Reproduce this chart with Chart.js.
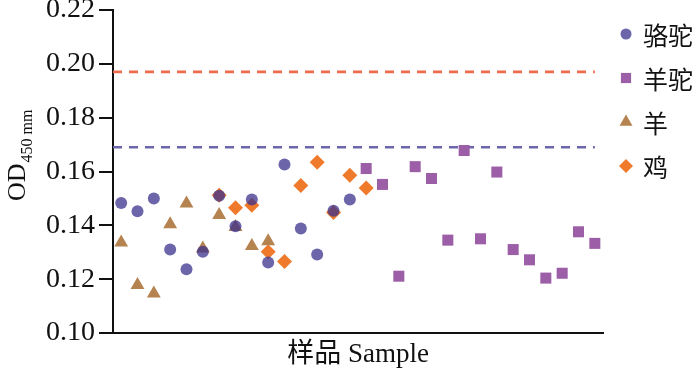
<!DOCTYPE html>
<html>
<head>
<meta charset="utf-8">
<script src="https://cdn.jsdelivr.net/npm/chart.js@4"></script>
<style>
  html, body { margin: 0; padding: 0; background: #fff; }
  #wrap { width: 700px; height: 376px; }
</style>
</head>
<body>
<div id="wrap"><canvas id="odChart" width="700" height="376"></canvas></div>
<script>
// 样品编号
const camelSamples = [1, 2, 3, 4, 5, 6, 7, 8, 9, 10, 11, 12, 13, 14, 15];
const alpacaSamples = [16, 17, 18, 19, 20, 21, 22, 23, 24, 25, 26, 27, 28, 29, 30];
const sheepSamples = [1, 2, 3, 4, 5, 6, 7, 8, 9, 10];
const chickenSamples = [7, 8, 9, 10, 11, 12, 13, 14, 15, 16];

// OD450 值
const camelOD = [0.1483, 0.1452, 0.1500, 0.1310, 0.1237, 0.1302, 0.1510, 0.1397, 0.1496, 0.1262, 0.1626, 0.1388, 0.1292, 0.1454, 0.1496];
const alpacaOD = [0.1611, 0.1552, 0.1211, 0.1618, 0.1574, 0.1345, 0.1678, 0.1350, 0.1598, 0.1310, 0.1272, 0.1204, 0.1222, 0.1376, 0.1333];
const sheepOD = [0.1336, 0.1178, 0.1147, 0.1404, 0.1481, 0.1314, 0.1438, 0.1394, 0.1323, 0.1341];
const chickenOD = [0.1512, 0.1465, 0.1475, 0.1302, 0.1266, 0.1548, 0.1634, 0.1448, 0.1586, 0.1539];

// 临界值 (虚线)
const upperCutoff = 0.197;
const lowerCutoff = 0.169;

const yTicks = [0.10, 0.12, 0.14, 0.16, 0.18, 0.20, 0.22];
const seriesNames = ['骆驼', '羊驼', '羊', '鸡'];

function pts(xs, ys) {
    return xs.map((x, i) => ({ x: x, y: ys[i] }));
}
function cutLine(v) {
    return [{ x: 0.5, y: v }, { x: 30, y: v }];
}

// 右侧图例
const legendPlugin = {
    id: 'sideLegend',
    afterDraw(chart) {
        const ctx = chart.ctx;
        ctx.save();
        ctx.font = '25px "Noto Sans CJK SC"';
        ctx.textBaseline = 'middle';
        for (let i = 0; i < 4; i++) {
            const ds = chart.data.datasets[i];
            const y = 34 + i * 44;
            ctx.fillStyle = ds.backgroundColor;
            Chart.helpers.drawPoint(ctx, {
                pointStyle: ds.pointStyle,
                radius: ds.legendRadius,
                borderWidth: 0,
                rotation: 0
            }, 626, y);
            ctx.fillStyle = '#111';
            ctx.textAlign = 'left';
            ctx.fillText(ds.label, 643, y + 1);
        }
        ctx.restore();
    }
};

// y 轴标题 OD450 mm (带下标)
const yTitlePlugin = {
    id: 'yTitle',
    afterDraw(chart) {
        const ctx = chart.ctx;
        ctx.save();
        ctx.translate(0, 201);
        ctx.rotate(-Math.PI / 2);
        ctx.fillStyle = '#111';
        ctx.textAlign = 'left';
        ctx.textBaseline = 'alphabetic';
        ctx.font = '26px "Liberation Serif"';
        ctx.fillText('OD', 0, 25);
        const w = ctx.measureText('OD').width;
        ctx.font = '16px "Liberation Serif"';
        ctx.fillText('450 mm', w + 1, 32);
        ctx.restore();
    }
};

const ctx = document.getElementById('odChart').getContext('2d');
new Chart(ctx, {
    type: 'scatter',
    data: {
        datasets: [
            {
                label: seriesNames[0], data: pts(camelSamples, camelOD),
                pointStyle: 'circle', pointRadius: 6, legendRadius: 5.5,
                backgroundColor: 'rgba(60,50,140,0.75)', borderWidth: 0
            },
            {
                label: seriesNames[1], data: pts(alpacaSamples, alpacaOD),
                pointStyle: 'rect', pointRadius: 7.8, legendRadius: 7.2,
                backgroundColor: '#9c5fa7', borderWidth: 0
            },
            {
                label: seriesNames[2], data: pts(sheepSamples, sheepOD),
                pointStyle: 'triangle', pointRadius: 8, legendRadius: 7.5,
                backgroundColor: '#b5834f', borderWidth: 0
            },
            {
                label: seriesNames[3], data: pts(chickenSamples, chickenOD),
                pointStyle: 'rectRot', pointRadius: 7.5, legendRadius: 7,
                backgroundColor: '#f07a2c', borderWidth: 0
            },
            {
                type: 'line', label: 'upper', data: cutLine(upperCutoff),
                borderColor: '#ef6c4b', borderWidth: 2.6, borderDash: [9, 7],
                pointRadius: 0, fill: false
            },
            {
                type: 'line', label: 'lower', data: cutLine(lowerCutoff),
                borderColor: '#6c66ac', borderWidth: 2.6, borderDash: [9, 7],
                pointRadius: 0, fill: false
            }
        ]
    },
    options: {
        responsive: false,
        animation: false,
        layout: { padding: { left: 0, top: 10, right: 97, bottom: 0 } },
        plugins: {
            legend: { display: false },
            tooltip: { enabled: false }
        },
        scales: {
            x: {
                type: 'linear',
                min: 0.5,
                max: 30.5,
                ticks: { display: false },
                grid: { display: false },
                border: { display: true, color: '#111', width: 2 },
                title: {
                    display: true,
                    text: '样品 Sample',
                    color: '#111',
                    font: { family: '"Liberation Serif", "Noto Sans CJK SC"', size: 27 },
                    padding: { top: 0, bottom: 5 }
                },
                afterFit: function(s) {
                    s.height = 43;
                    s.paddingLeft = 0;
                    s.paddingRight = 0;
                }
            },
            y: {
                min: 0.10,
                max: 0.22,
                afterBuildTicks: function(s) {
                    s.ticks = yTicks.map(v => ({ value: v }));
                },
                ticks: {
                    color: '#111',
                    padding: 4,
                    font: { family: '"Liberation Serif"', size: 28 },
                    callback: v => Number(v).toFixed(2)
                },
                grid: {
                    drawOnChartArea: false,
                    drawTicks: true,
                    tickLength: 14,
                    color: '#111',
                    lineWidth: 2
                },
                border: { display: true, color: '#111', width: 2 },
                afterFit: function(s) {
                    s.width = 113;
                    s.paddingTop = 0;
                    s.paddingBottom = 0;
                }
            }
        }
    },
    plugins: [legendPlugin, yTitlePlugin]
});
</script>
</body>
</html>
